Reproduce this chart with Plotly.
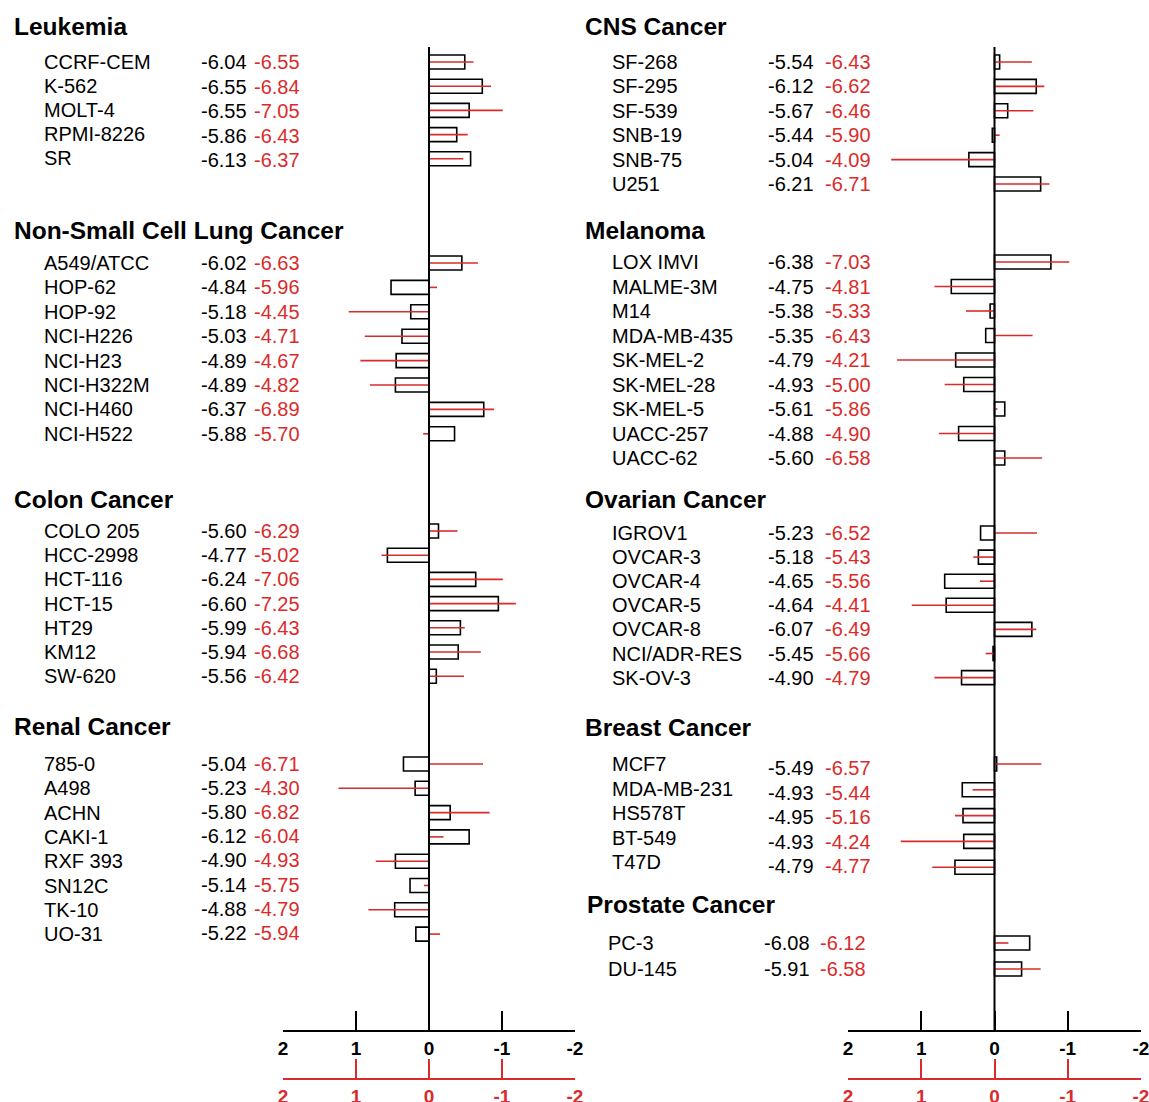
import plotly.graph_objects as go

W, H = 1149, 1102
RED = "#d92b2b"
FONT = "Liberation Sans, Arial, sans-serif"

# ---------------- data ----------------
leuk_names = ["CCRF-CEM", "K-562", "MOLT-4", "RPMI-8226", "SR"]
leuk_v1 = [-6.04, -6.55, -6.55, -5.86, -6.13]
leuk_v2 = [-6.55, -6.84, -7.05, -6.43, -6.37]
leuk_bar = [-0.49, -0.73, -0.55, -0.38, -0.57]
leuk_line = [-0.61, -0.85, -1.01, -0.53, -0.47]

nsclc_names = ["A549/ATCC", "HOP-62", "HOP-92", "NCI-H226", "NCI-H23", "NCI-H322M", "NCI-H460", "NCI-H522"]
nsclc_v1 = [-6.02, -4.84, -5.18, -5.03, -4.89, -4.89, -6.37, -5.88]
nsclc_v2 = [-6.63, -5.96, -4.45, -4.71, -4.67, -4.82, -6.89, -5.70]
nsclc_bar = [-0.45, 0.52, 0.25, 0.37, 0.45, 0.46, -0.75, -0.35]
nsclc_line = [-0.67, -0.11, 1.10, 0.88, 0.94, 0.81, -0.89, 0.08]

colon_names = ["COLO 205", "HCC-2998", "HCT-116", "HCT-15", "HT29", "KM12", "SW-620"]
colon_v1 = [-5.60, -4.77, -6.24, -6.60, -5.99, -5.94, -5.56]
colon_v2 = [-6.29, -5.02, -7.06, -7.25, -6.43, -6.68, -6.42]
colon_bar = [-0.13, 0.57, -0.64, -0.95, -0.43, -0.40, -0.10]
colon_line = [-0.39, 0.65, -1.01, -1.19, -0.49, -0.71, -0.48]

renal_names = ["785-0", "A498", "ACHN", "CAKI-1", "RXF 393", "SN12C", "TK-10", "UO-31"]
renal_v1 = [-5.04, -5.23, -5.80, -6.12, -4.90, -5.14, -4.88, -5.22]
renal_v2 = [-6.71, -4.30, -6.82, -6.04, -4.93, -5.75, -4.79, -5.94]
renal_bar = [0.35, 0.19, -0.29, -0.55, 0.46, 0.26, 0.47, 0.18]
renal_line = [-0.74, 1.24, -0.83, -0.20, 0.73, 0.07, 0.83, -0.15]

cns_names = ["SF-268", "SF-295", "SF-539", "SNB-19", "SNB-75", "U251"]
cns_v1 = [-5.54, -6.12, -5.67, -5.44, -5.04, -6.21]
cns_v2 = [-6.43, -6.62, -6.46, -5.90, -4.09, -6.71]
cns_bar = [-0.07, -0.57, -0.18, 0.03, 0.35, -0.63]
cns_line = [-0.51, -0.68, -0.53, -0.07, 1.41, -0.75]

mel_names = ["LOX IMVI", "MALME-3M", "M14", "MDA-MB-435", "SK-MEL-2", "SK-MEL-28", "SK-MEL-5", "UACC-257", "UACC-62"]
mel_v1 = [-6.38, -4.75, -5.38, -5.35, -4.79, -4.93, -5.61, -4.88, -5.60]
mel_v2 = [-7.03, -4.81, -5.33, -6.43, -4.21, -5.00, -5.86, -4.90, -6.58]
mel_bar = [-0.77, 0.59, 0.06, 0.12, 0.53, 0.42, -0.14, 0.49, -0.14]
mel_line = [-1.02, 0.82, 0.39, -0.52, 1.33, 0.68, -0.04, 0.76, -0.65]

ov_names = ["IGROV1", "OVCAR-3", "OVCAR-4", "OVCAR-5", "OVCAR-8", "NCI/ADR-RES", "SK-OV-3"]
ov_v1 = [-5.23, -5.18, -4.65, -4.64, -6.07, -5.45, -4.90]
ov_v2 = [-6.52, -5.43, -5.56, -4.41, -6.49, -5.66, -4.79]
ov_bar = [0.19, 0.22, 0.68, 0.66, -0.51, 0.02, 0.45]
ov_line = [-0.58, 0.29, 0.20, 1.13, -0.57, 0.12, 0.82]

br_names = ["MCF7", "MDA-MB-231", "HS578T", "BT-549", "T47D"]
br_v1 = [-5.49, -4.93, -4.95, -4.93, -4.79]
br_v2 = [-6.57, -5.44, -5.16, -4.24, -4.77]
br_bar = [-0.03, 0.44, 0.43, 0.42, 0.54]
br_line = [-0.64, 0.30, 0.54, 1.28, 0.85]

pr_names = ["PC-3", "DU-145"]
pr_v1 = [-6.08, -5.91]
pr_v2 = [-6.12, -6.58]
pr_bar = [-0.48, -0.37]
pr_line = [-0.19, -0.63]

tick_vals = [2, 1, 0, -1, -2]
tick_labels = ["2", "1", "0", "-1", "-2"]

# ---------------- layout (pixel positions) ----------------
LEFT = dict(ax="x", title_x=12, name_x=42, v1_x=199, v2_x=252)
RIGHT = dict(ax="x2", title_x=583, name_x=610, v1_x=766, v2_x=823)
PROST = dict(ax="x2", title_x=585, name_x=606, v1_x=762, v2_x=818)

groups = [
    ("Leukemia", LEFT, 26, (62, 24.0), (62, 24.5), (62, 24.2),
     leuk_names, leuk_v1, leuk_v2, leuk_bar, leuk_line),
    ("Non-Small Cell Lung Cancer", LEFT, 230, (263, 24.4), (263, 24.4), (263, 24.4),
     nsclc_names, nsclc_v1, nsclc_v2, nsclc_bar, nsclc_line),
    ("Colon Cancer", LEFT, 499, (531, 24.2), (531, 24.2), (531, 24.2),
     colon_names, colon_v1, colon_v2, colon_bar, colon_line),
    ("Renal Cancer", LEFT, 726, (764, 24.3), (764, 24.1), (764, 24.3),
     renal_names, renal_v1, renal_v2, renal_bar, renal_line),
    ("CNS Cancer", RIGHT, 26, (62, 24.4), (62, 24.4), (62, 24.4),
     cns_names, cns_v1, cns_v2, cns_bar, cns_line),
    ("Melanoma", RIGHT, 230, (262, 24.5), (262, 24.5), (262, 24.5),
     mel_names, mel_v1, mel_v2, mel_bar, mel_line),
    ("Ovarian Cancer", RIGHT, 499, (533, 24.1), (533, 24.1), (533, 24.1),
     ov_names, ov_v1, ov_v2, ov_bar, ov_line),
    ("Breast Cancer", RIGHT, 727, (764, 24.5), (768, 24.5), (764, 25.8),
     br_names, br_v1, br_v2, br_bar, br_line),
    ("Prostate Cancer", PROST, 904, (943, 26.0), (943, 26.0), (943, 26.0),
     pr_names, pr_v1, pr_v2, pr_bar, pr_line),
]

AXIS_TOP = 47
AXIS_Y = 1031
RED_AXIS_Y = 1079

fig = go.Figure()
annotations = []
shapes = []

bars_by_ax = {"x": ([], []), "x2": ([], [])}
lines_by_ax = {"x": ([], []), "x2": ([], [])}

for title, col, ty, (ny0, nst), (vy0, vst), (by0, bst), names, v1, v2, bar, line in groups:
    annotations.append(dict(text="<b>%s</b>" % title, x=col["title_x"] / W, y=ty,
                            xref="paper", yref="y", xanchor="left", yanchor="middle",
                            showarrow=False, font=dict(family=FONT, size=24.5, color="black")))
    for i, nm in enumerate(names):
        yn = ny0 + i * nst
        yv = vy0 + i * vst
        yb = by0 + i * bst
        annotations.append(dict(text=nm, x=col["name_x"] / W, y=yn, xref="paper", yref="y",
                                xanchor="left", yanchor="middle", showarrow=False,
                                font=dict(family=FONT, size=20, color="black")))
        annotations.append(dict(text="%.2f" % v1[i], x=col["v1_x"] / W, y=yv, xref="paper", yref="y",
                                xanchor="left", yanchor="middle", showarrow=False,
                                font=dict(family=FONT, size=20, color="black")))
        annotations.append(dict(text="%.2f" % v2[i], x=col["v2_x"] / W, y=yv, xref="paper", yref="y",
                                xanchor="left", yanchor="middle", showarrow=False,
                                font=dict(family=FONT, size=20, color=RED)))
        bars_by_ax[col["ax"]][0].append(bar[i])
        bars_by_ax[col["ax"]][1].append(yb)
        lx, ly = lines_by_ax[col["ax"]]
        lx += [0, line[i], None]
        ly += [yb, yb, None]

for ax in ["x", "x2"]:
    bx, by = bars_by_ax[ax]
    fig.add_trace(go.Bar(x=bx, y=by, base=0, orientation="h", width=14,
                         marker=dict(color="white", line=dict(color="black", width=1.6)),
                         xaxis=ax, yaxis="y", showlegend=False, hoverinfo="skip"))
for ax in ["x", "x2"]:
    lx, ly = lines_by_ax[ax]
    fig.add_trace(go.Scatter(x=lx, y=ly, mode="lines", line=dict(color=RED, width=1.6),
                             xaxis=ax, yaxis="y", showlegend=False, hoverinfo="skip"))
# placeholders so the red scale axes are drawn
for ax in ["x3", "x4"]:
    fig.add_trace(go.Scatter(x=[0], y=[-100], mode="markers", marker=dict(opacity=0),
                             xaxis=ax, yaxis="y", showlegend=False, hoverinfo="skip"))

for ax in ["x", "x2"]:
    shapes.append(dict(type="line", xref=ax, yref="y", x0=0, x1=0, y0=AXIS_TOP, y1=AXIS_Y,
                       line=dict(color="black", width=2)))

def scale_axis(domain, pos_px, color):
    return dict(domain=domain, range=[2, -2], anchor="free", position=(H - pos_px) / H,
                showline=True, linecolor=color, linewidth=2, ticks="inside", ticklen=19,
                tickwidth=2, tickcolor=color, tickvals=tick_vals,
                ticktext=["<b>%s</b>" % t for t in tick_labels],
                tickfont=dict(family=FONT, size=19, color=color), ticklabelstandoff=0,
                ticklabeloverflow="allow",
                showgrid=False, zeroline=False, fixedrange=True, automargin=False)

LDOM = [283 / W, 575 / W]
RDOM = [848 / W, 1141 / W]

fig.update_layout(
    width=W, height=H,
    margin=dict(l=0, r=0, t=0, b=0, pad=0, autoexpand=False),
    paper_bgcolor="white", plot_bgcolor="rgba(0,0,0,0)",
    barmode="overlay",
    showlegend=False,
    xaxis=scale_axis(LDOM, AXIS_Y, "black"),
    xaxis2=scale_axis(RDOM, AXIS_Y, "black"),
    xaxis3=scale_axis(LDOM, RED_AXIS_Y, RED),
    xaxis4=scale_axis(RDOM, RED_AXIS_Y, RED),
    yaxis=dict(domain=[0, 1], range=[H, 0], visible=False, fixedrange=True, automargin=False),
    annotations=annotations,
    shapes=shapes,
)

fig.write_html(
    "out.html",
    config={"responsive": False, "displayModeBar": False},
    post_script="document.body.style.margin='0px';document.body.style.overflow='hidden';",
)
